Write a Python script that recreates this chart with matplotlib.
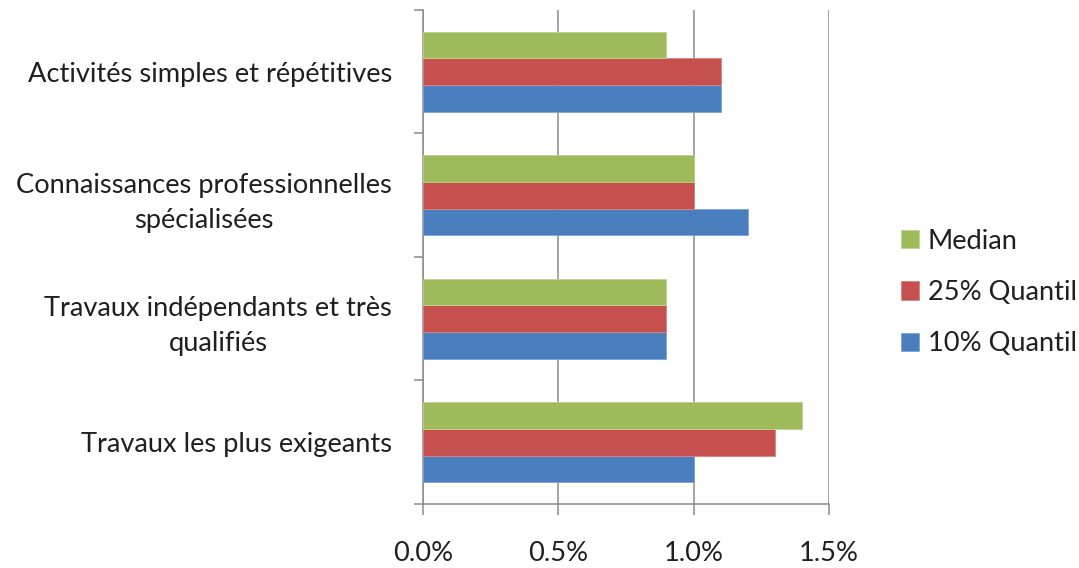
import numpy as np
import matplotlib.pyplot as plt
from matplotlib.ticker import FuncFormatter, FixedLocator

plt.rcParams['font.family'] = ['Lato', 'DejaVu Sans']

# categories from bottom to top
categories = [
    "Travaux les plus exigeants",
    "Travaux indépendants et très\nqualifiés",
    "Connaissances professionnelles\nspécialisées",
    "Activités simples et répétitives",
]
q10 = [1.0, 0.9, 1.2, 1.1]
q25 = [1.3, 0.9, 1.0, 1.1]
median = [1.4, 0.9, 1.0, 0.9]

series = [
    ("10% Quantil", q10, "#4a7fbf", "#7fa3d3"),
    ("25% Quantil", q25, "#c5504e", "#d98482"),
    ("Median", median, "#9dbb5b", "#bcd38c"),
]

text_color = "#1f1f1f"
grid_color = "#8c8c8c"
fs = 19.6

fig = plt.figure(figsize=(10.79, 5.68), dpi=100)
ax = fig.add_axes([0.3918, 0.1127, 0.7683 - 0.3918, 0.9824 - 0.1127])

y = np.arange(len(categories))
h = 0.215
bars = []
for i, (name, vals, col, edge) in enumerate(series):
    b = ax.barh(y + (i - 1) * h, vals, height=h, color=col, edgecolor=edge,
                linewidth=0.6, label=name, zorder=3)
    bars.append(b)

ax.set_xlim(0, 1.5)
ax.set_ylim(-0.5, len(categories) - 0.5)
ax.set_xticks([0, 0.5, 1.0, 1.5])
ax.xaxis.set_major_formatter(FuncFormatter(lambda v, p: f"{v:.1f}%"))
ax.grid(axis="x", color=grid_color, linewidth=1.1, zorder=0)
ax.grid(axis="y", visible=False)

ax.set_yticks(y)
ax.set_yticklabels(categories, ha="right", multialignment="center")
for lbl in ax.get_yticklabels():
    lbl.set_linespacing(1.5)
ax.yaxis.set_minor_locator(FixedLocator(np.arange(-0.5, len(categories), 1.0)))
ax.tick_params(axis="y", which="major", length=0, pad=22, labelsize=fs, labelcolor=text_color)
ax.tick_params(axis="y", which="minor", length=6.5, width=1.1, color=grid_color, direction="out")
ax.tick_params(axis="x", length=8, width=1.1, color=grid_color, pad=19, labelsize=fs,
               labelcolor=text_color)

for s in ["top", "right"]:
    ax.spines[s].set_visible(False)
for s in ["left", "bottom"]:
    ax.spines[s].set_color(grid_color)
    ax.spines[s].set_linewidth(1.1)

handles = [bars[2], bars[1], bars[0]]
labels = ["Median", "25% Quantil", "10% Quantil"]
fig.legend(handles, labels, loc="center left", bbox_to_anchor=(0.835, 0.485),
           frameon=False, fontsize=fs, handlelength=0.68, handleheight=0.68,
           handletextpad=0.3, labelspacing=0.97, borderpad=0, borderaxespad=0,
           labelcolor=text_color)

fig.savefig("out.png", dpi=100)
